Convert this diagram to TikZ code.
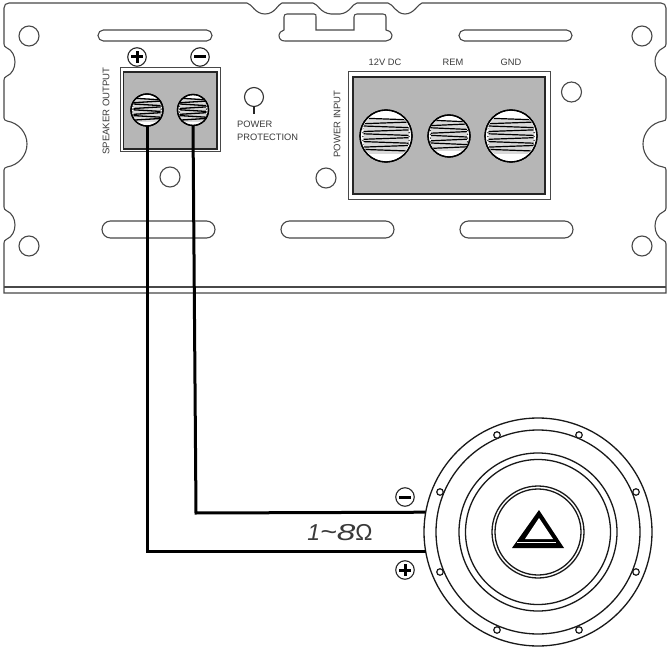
\documentclass[tikz,border=0pt]{standalone}
\usepackage{fontspec}
\setmainfont{Liberation Sans}
\definecolor{panelline}{HTML}{484848}
\definecolor{termgray}{HTML}{B6B6B6}
\definecolor{txt}{HTML}{3A3A3A}
\tikzset{
 panel/.style={draw=panelline,line width=1.1pt},
 hole/.style={circle,draw=panelline,line width=1.1pt,minimum size=20pt,inner sep=0pt,outer sep=0pt},
 outerbox/.style={draw=panelline,line width=1pt,fill=white},
 innerbox/.style={draw=black!85,line width=1.6pt,fill=termgray},
 terminal/.style={circle,draw=black,line width=1.3pt,fill=white,inner sep=0pt,outer sep=0pt,minimum size=#1},
 wire/.style={draw=black,line width=3pt,line cap=butt,line join=miter},
 ring/.style={circle,draw=black!90,line width=1.3pt,inner sep=0pt,outer sep=0pt,minimum size=#1},
 screw/.style={circle,draw=black!90,line width=1.2pt,fill=white,inner sep=0pt,minimum size=6.5pt},
 signbase/.style={circle,draw=black!85,line width=1.1pt,fill=white,inner sep=0pt,minimum size=18.5pt},
 minussign/.style={signbase,path picture={\draw[black,line width=3pt]
   ([xshift=-6pt]path picture bounding box.center) -- ([xshift=6pt]path picture bounding box.center);}},
 plussign/.style={signbase,path picture={\draw[black,line width=3pt]
   ([xshift=-6pt]path picture bounding box.center) -- ([xshift=6pt]path picture bounding box.center)
   ([yshift=-6pt]path picture bounding box.center) -- ([yshift=6pt]path picture bounding box.center);}},
 lab/.style={text=txt,inner sep=0pt,font=\fontsize{9.3}{11}\selectfont},
}
% threads: centre x, centre y, half width, top offset, last turn index, pitch, line width
\newcommand{\threads}[7]{%
 \begin{scope}
  \clip (#1,#2) circle ({#3+2});
  \fill[black!15] (#1-#3,#2+#4) rectangle (#1+#3,#2+#4+#5*#6+#6);
  \foreach \i in {0,...,#5}{
   \pgfmathsetmacro{\ya}{#2+#4+\i*#6}
   \pgfmathsetmacro{\sl}{mod(\i,2)==0 ? 0.8 : -0.8}
   \draw[black,line width=#7pt] (#1-#3,\ya-\sl) -- (#1+#3,\ya+\sl);
   \fill[black!80] (#1-#3-0.6,\ya+#6*0.5) circle (0.8pt);
   \fill[black!80] (#1+#3+0.6,\ya+#6*0.5) circle (0.8pt);
  }
 \end{scope}}
\begin{document}
\begin{tikzpicture}[x=1pt,y=-1pt]
\useasboundingbox (0,0) rectangle (670,650);
\fill[white] (0,0) rectangle (670,650);

% panel outline
\draw[panel]
 (4,8) .. controls (4,5) and (6,3) .. (9,3)
 -- (247,3) .. controls (252,4) and (255,14) .. (265,14) .. controls (275,14) and (278,4) .. (282,3)
 -- (313,3) .. controls (318,4) and (320,13) .. (331,14) -- (340,14) .. controls (350,13) and (352,4) .. (357,3)
 -- (388,3) .. controls (393,4) and (396,14) .. (405,14) .. controls (414,14) and (418,4) .. (422,3)
 -- (661,3) .. controls (664,3) and (666,5) .. (666,8)
 -- (666,44) .. controls (666,46) and (665,47) .. (663,48) .. controls (658,50) and (655,56) .. (655,61)
    .. controls (655,67) and (658,73) .. (663,75) .. controls (665,76) and (666,77) .. (666,79)
 -- (666,118) .. controls (666,120) and (665,121) .. (663,121) .. controls (651,123) and (643,133) .. (643,144)
    .. controls (643,155) and (651,165) .. (663,167) .. controls (665,167) and (666,168) .. (666,170)
 -- (666,208) .. controls (666,210) and (665,211) .. (663,212) .. controls (658,214) and (655,220) .. (655,226)
    .. controls (655,232) and (658,238) .. (663,240) .. controls (665,241) and (666,242) .. (666,244)
 -- (666,293) -- (4,293) -- (4,243)
    .. controls (4,241) and (5,240) .. (7,239) .. controls (12,237) and (15,231) .. (15,225)
    .. controls (15,219) and (12,213) .. (7,211) .. controls (5,210) and (4,209) .. (4,207)
 -- (4,170) .. controls (4,168) and (5,168) .. (7,167) .. controls (19,165) and (27,155) .. (27,144)
    .. controls (27,133) and (19,123) .. (7,121) .. controls (5,120) and (4,120) .. (4,118)
 -- (4,80) .. controls (4,78) and (5,77) .. (7,76) .. controls (12,74) and (15,68) .. (15,62)
    .. controls (15,56) and (12,50) .. (7,48) .. controls (5,47) and (4,46) .. (4,44) -- cycle;
\draw[panel] (4,287) -- (666,287);

% centre connector cut-out
\draw[panel] (284,17) .. controls (284,15) and (285,14) .. (287,14) -- (314,14) .. controls (316,14) and (316,15) .. (316,17)
 -- (316,30) -- (354,30) -- (354,17) .. controls (354,15) and (355,14) .. (357,14) -- (383,14)
 .. controls (385,14) and (386,15) .. (386,17) -- (386,30) .. controls (390,31) and (392,33) .. (392,35)
 .. controls (392,39) and (389,41) .. (386,41) -- (285,41) .. controls (281,41) and (279,39) .. (279,35)
 .. controls (279,33) and (281,31) .. (284,30) -- cycle;

% slots
\draw[panel,rounded corners=5.4pt] (98,30) rectangle (212,41);
\draw[panel,rounded corners=5.4pt] (459,30) rectangle (572,41);
\draw[panel,rounded corners=8.5pt] (102,221) rectangle (215,238);
\draw[panel,rounded corners=8.5pt] (281,221) rectangle (394,238);
\draw[panel,rounded corners=8.5pt] (460,221) rectangle (573,238);

% holes
\node[hole] (h1) at (29,36) {};
\node[hole] (h2) at (29,246) {};
\node[hole] (h3) at (642,36) {};
\node[hole] (h4) at (642,246) {};
\node[hole] (h5) at (170,177) {};
\node[hole] (h6) at (326,178) {};
\node[hole] (h7) at (571.5,92) {};

% speaker output terminal block
\draw[outerbox] (120,68) rectangle (220,152);
\draw[innerbox] (123.5,72) rectangle (217,149);
\node[terminal=32pt] (tp) at (147,110) {};
\node[terminal=31pt] (tm) at (193,110) {};
\threads{147}{110}{13.5}{-11}{7}{2.9}{1.3}
\threads{193}{110}{13}{-11}{7}{2.9}{1.3}
\draw[black,line width=1.3pt] (tp) circle (16pt) (tm) circle (15.5pt);
\node[plussign] (sp) at (137,57) {};
\node[minussign] (sm) at (200,57) {};
\node[lab,rotate=90,font=\fontsize{9.6}{11}\selectfont] (so) at (106,111) {SPEAKER OUTPUT};

% power protection LED
\node[circle,draw=black!80,line width=1.1pt,minimum size=19pt,inner sep=0pt,outer sep=0pt] (led) at (254,97) {};
\coordinate (ledstem) at (254,114);
\draw[black!85,line width=2pt] (led.south) -- (ledstem);
\node[lab,anchor=west] (pw1) at (237,124) {POWER};
\node[lab,anchor=west] (pw2) at (237,137) {PROTECTION};

% power input terminal block
\draw[outerbox] (348,72) rectangle (550,200);
\draw[innerbox] (353,77) rectangle (545,194);
\node[terminal=52pt] (t12) at (386,136) {};
\node[terminal=42pt] (trem) at (449,136) {};
\node[terminal=52pt] (tgnd) at (511,136) {};
\threads{386}{136}{22.5}{-17}{8}{3.9}{1.2}
\threads{449}{136}{18}{-15}{7}{3.8}{1.2}
\threads{511}{136}{22.5}{-17}{8}{3.9}{1.2}
\draw[black,line width=1.3pt] (t12) circle (26pt) (trem) circle (21pt) (tgnd) circle (26pt);
\node[lab] (l12) at (385,62) {12V DC};
\node[lab] (lrem) at (453,62) {REM};
\node[lab] (lgnd) at (511,62) {GND};
\node[lab,rotate=90,font=\fontsize{9.5}{11}\selectfont] (pi) at (337,124) {POWER INPUT};

% speaker
\node[ring=228pt] (spk) at (538,532) {};
\node[ring=204pt] (r2) at (538,532) {};
\node[ring=158pt] (r3) at (538,532) {};
\node[ring=145pt] (r4) at (538,532) {};
\node[ring=92pt] (r5) at (538,532) {};
\node[ring=86pt] (r6) at (538,532) {};
\node[screw] (s1) at (497,435) {};
\node[screw] (s2) at (579,435) {};
\node[screw] (s3) at (440,492) {};
\node[screw] (s4) at (636,492) {};
\node[screw] (s5) at (440,572) {};
\node[screw] (s6) at (636,572) {};
\node[screw] (s7) at (497,630) {};
\node[screw] (s8) at (579,630) {};
\fill[black] (539,510) -- (564,548) -- (512,548) -- cycle;
\fill[white] (539,518) -- (553,539) -- (525,539) -- cycle;
\draw[white,line width=1pt] (517,542.5) -- (556,542.5);

% wires
\coordinate (bend) at (196,513);
\draw[wire] (tp.south) |- (spk.190.6);
\draw[wire] (tm.south) -- (bend) -- (spk.170.4);
\node[minussign] (wm) at (405,497) {};
\node[plussign] (wp) at (405,570) {};
\node[inner sep=0pt,text=txt,font=\fontsize{23}{26}\selectfont] (ohm) at (340,533)
 {\textit{1}\scalebox{1.25}[1.1]{\textit{\char`\~}}\scalebox{1.45}[1]{\textit{8}}Ω};
\end{tikzpicture}
\end{document}
